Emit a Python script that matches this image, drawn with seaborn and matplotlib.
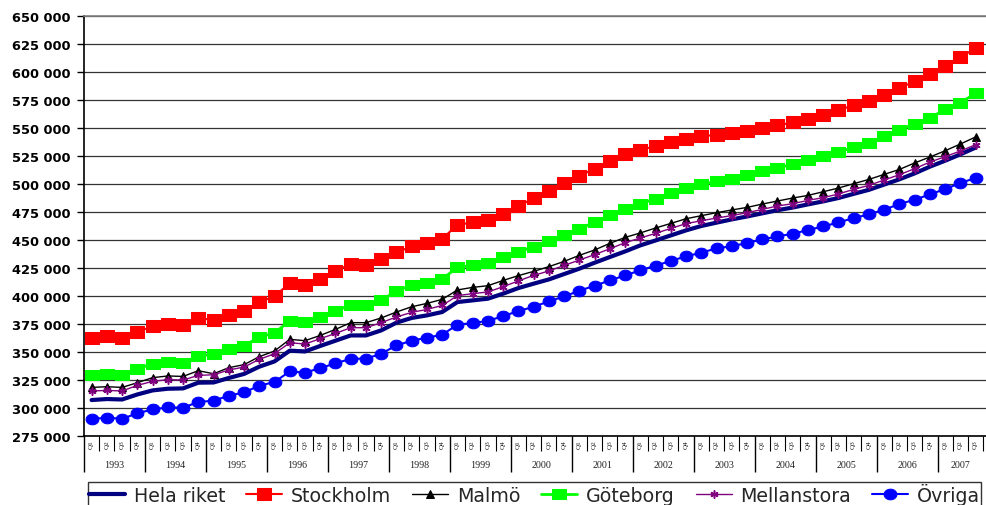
import numpy as np
import pandas as pd
import matplotlib
matplotlib.use("Agg")
import matplotlib.pyplot as plt
import seaborn as sns
from matplotlib.ticker import FuncFormatter
from matplotlib.transforms import blended_transform_factory

# Quarterly series, 1993 Q1 .. 2007 Q3
years = list(range(1993, 2008))
quarter_names = ["Q1", "Q2", "Q3", "Q4"]

hela_riket = [
    307100, 308000, 307600, 312100, 315700, 317200, 317500, 322600, 322800, 326800,
    330400, 336900, 341600, 351200, 350500, 355400, 360100, 364800, 364800, 369300,
    376200, 380400, 382700, 385700, 394600, 396100, 397600, 402100, 407100, 411000,
    414800, 419600, 424400, 429700, 434800, 439800, 445200, 449600, 454100, 458600,
    462500, 465500, 468400, 471000, 473800, 476600, 479000, 481800, 484500, 487500,
    491200, 494800, 499500, 504200, 509500, 515500, 520800, 526500, 532500,
]
stockholm = [
    362500, 363900, 362500, 367900, 372900, 374600, 374300, 380400, 378600, 383300,
    386300, 394600, 399600, 411600, 410100, 415400, 422300, 428600, 428000, 433300,
    438900, 444300, 447000, 451200, 463400, 465700, 467900, 473200, 480000, 487500,
    493400, 500500, 507100, 513700, 520500, 526800, 530400, 533900, 537500, 540400,
    542500, 544000, 545300, 547000, 550000, 552300, 555000, 558300, 561900, 566100,
    570200, 574400, 579700, 585700, 591600, 598200, 605400, 613000, 621400,
]
malmo = [
    318400, 319000, 318400, 322600, 327100, 328600, 328200, 333300, 330600, 336000,
    338700, 345800, 350900, 361300, 360100, 364800, 370200, 376200, 376200, 380400,
    385700, 390400, 393400, 397000, 405400, 407700, 409200, 413900, 418200, 422000,
    426200, 430900, 436300, 441100, 447000, 452300, 456300, 460700, 464800, 469000,
    471700, 474400, 476800, 479100, 482100, 484800, 487500, 489800, 493100, 496400,
    500300, 504100, 508600, 513000, 518800, 524100, 529700, 535700, 542000,
]
goteborg = [
    329700, 330600, 329700, 335100, 339300, 341100, 340400, 346400, 347900, 352900,
    355400, 363400, 367000, 377900, 376800, 380900, 386300, 392200, 391600, 396100,
    404500, 409500, 411600, 415200, 425500, 427300, 429500, 434800, 439500, 444000,
    448800, 454100, 460100, 465700, 472000, 477700, 482400, 486900, 491600, 496400,
    499600, 502300, 504700, 507700, 511300, 514300, 517500, 521100, 525000, 528600,
    532700, 536600, 542500, 548200, 553600, 558900, 566600, 572600, 580900,
]
mellanstora = [
    315200, 315700, 315200, 320200, 323800, 325300, 325000, 329100, 329700, 333900,
    336600, 343400, 348500, 358300, 357100, 361900, 366600, 371700, 371700, 376200,
    381300, 385400, 388000, 391600, 400300, 402100, 403600, 408300, 413500, 418400,
    422300, 427300, 432100, 436900, 442200, 447600, 451800, 455900, 460400, 464600,
    467200, 469600, 471800, 474400, 477300, 480400, 482400, 485400, 487800, 491100,
    495200, 498800, 503600, 508300, 513700, 519600, 524400, 529500, 535100,
]
ovriga = [
    290200, 291300, 290400, 295200, 298800, 300500, 300300, 305400, 306500, 311000,
    313900, 319900, 323200, 332700, 331500, 335700, 339800, 344000, 344000, 348500,
    355900, 360100, 362800, 365400, 374400, 375900, 377700, 382100, 386500, 390400,
    395200, 399600, 404700, 409200, 413900, 418400, 422900, 427100, 431300, 435400,
    438700, 442500, 444500, 447300, 450500, 453200, 455600, 458900, 462100, 465700,
    469600, 472900, 477100, 482100, 486000, 490700, 495500, 500900, 505400,
]

series_names = ["Hela riket", "Stockholm", "Malmö", "Göteborg", "Mellanstora", "Övriga"]
series_values = [hela_riket, stockholm, malmo, goteborg, mellanstora, ovriga]

n = len(hela_riket)
period_year = [years[i // 4] for i in range(n)]
period_quarter = [quarter_names[i % 4] for i in range(n)]

frames = []
for name, vals in zip(series_names, series_values):
    frames.append(pd.DataFrame({"idx": np.arange(n), "värde": vals, "serie": name,
                                "år": period_year, "kvartal": period_quarter}))
df = pd.concat(frames, ignore_index=True)

# Slightly wide markers (box / ellipse)
box = [(-1.25, -1), (1.25, -1), (1.25, 1), (-1.25, 1), (-1.25, -1)]
t = np.linspace(0, 2 * np.pi, 40)
ellipse = list(zip(1.2 * np.cos(t), np.sin(t)))

styles = {
    "Hela riket": dict(color="#000080", lw=3.0, marker=None),
    "Stockholm": dict(color="#FF0000", lw=1.5, marker=box, ms=10, mec="#FF0000"),
    "Malmö": dict(color="#000000", lw=1.0, marker="^", ms=5.2, mec="#000000"),
    "Göteborg": dict(color="#00FF00", lw=2.0, marker=box, ms=9.4, mec="#00FF00"),
    "Mellanstora": dict(color="#800080", lw=1.0, marker=(6, 2, 0), ms=5.8, mec="#800080", mew=1.1),
    "Övriga": dict(color="#0000FF", lw=1.5, marker=ellipse, ms=9.2, mec="#0000FF"),
}

sns.set_theme(style="white")
plt.rcParams["font.family"] = ["DejaVu Sans"]

fig = plt.figure(figsize=(9.86, 5.06), dpi=100)
fig.patch.set_facecolor("white")
ax = fig.add_axes([84 / 986, 69 / 506, 914.5 / 986, 420 / 506])
ax.set_facecolor("white")

for name in series_names:
    st = dict(styles[name])
    color = st.pop("color")
    sub = df[df["serie"] == name]
    sns.lineplot(data=sub, x="idx", y="värde", ax=ax, color=color,
                 label=name, legend=False, **st)

ax.set_xlim(-0.5, n - 0.5)
ax.set_ylim(275000, 650000)
ax.set_yticks(np.arange(275000, 650001, 25000))
ax.yaxis.set_major_formatter(FuncFormatter(lambda v, p: f"{int(v):,}".replace(",", " ")))
ax.yaxis.grid(True, color="#333333", lw=0.9)
ax.xaxis.grid(False)
ax.set_axisbelow(True)
ax.set_xlabel("")
ax.set_ylabel("")

for lbl in ax.get_yticklabels():
    lbl.set_fontweight("bold")
    lbl.set_fontsize(9.4)
    lbl.set_color("black")
ax.tick_params(axis="y", which="major", direction="out", length=5, width=1,
               color="black", pad=4.5, left=True)

# category axis: quarter separators and year separators
ax.set_xticks(np.arange(-0.5, n + 4, 4))
ax.set_xticks(np.arange(-0.5, n + 1, 1), minor=True)
ax.set_xticklabels([])
ax.tick_params(axis="x", which="major", direction="out", length=26, width=1,
               color="black", bottom=True)
ax.tick_params(axis="x", which="minor", direction="out", length=11, width=0.8,
               color="black", bottom=True)

trans = blended_transform_factory(ax.transData, ax.transAxes)
for i in range(n):
    ax.text(i, -0.019, period_quarter[i], rotation=90, ha="center", va="center",
            fontsize=5.2, family="Liberation Serif", transform=trans, color="#222222")
for k, yr in enumerate(years):
    idxs = [i for i in range(n) if period_year[i] == yr]
    if not idxs:
        continue
    ax.text((idxs[0] + idxs[-1]) / 2, -0.069, str(yr), ha="center", va="center",
            fontsize=7.2, family="Liberation Serif", transform=trans, color="#222222")

for side in ["left", "bottom"]:
    ax.spines[side].set_color("black")
    ax.spines[side].set_linewidth(1.2)
ax.spines["top"].set_color("#808080")
ax.spines["top"].set_linewidth(1.2)
ax.spines["right"].set_visible(False)

handles = ax.lines[: len(series_names)]
leg = fig.legend(handles, series_names, loc="upper left",
                 bbox_to_anchor=(88 / 986, 1 - 483 / 506), bbox_transform=fig.transFigure,
                 ncol=6, fontsize=13.7, frameon=True, fancybox=False,
                 handlelength=1.9, handletextpad=0.45, columnspacing=1.1,
                 borderpad=0.05, borderaxespad=0, markerscale=1.0)
leg.get_frame().set_edgecolor("black")
leg.get_frame().set_linewidth(1.0)

fig.savefig("out.png", dpi=100, facecolor="white")
